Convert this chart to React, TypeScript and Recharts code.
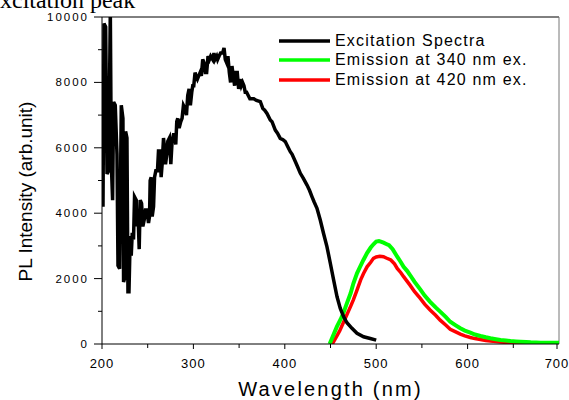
import { LineChart, Line, XAxis, YAxis, Legend, ReferenceLine } from 'recharts';

// excitation spectrum (nm, intensity)
const excitationNm = [
  200, 201.1, 202.2, 204, 205.5, 207.3, 209.1, 210.2, 211.6, 212.7, 214.5, 216.4, 217.5, 219.3, 221.1,
  222.9, 223.6, 224.7, 225.8, 227.3, 228.4, 229.5, 230.9, 232, 233.1, 234.5, 235.6, 237.5, 238.2, 239.6,
  240.7, 241.8, 243.3, 244.7, 246.2, 247.6, 249.1, 250.9, 252, 252.7, 253.8, 254.9, 256.4, 257.5, 258.9,
  260.7, 261.8, 263.6, 264.7, 265.8, 267.3, 268.4, 269.5, 270.9, 272, 273.8, 275.3, 276.7, 278.2, 279.6,
  280.7, 281.8, 282.9, 284.4, 286.2, 287.6, 289.1, 290.9, 292.4, 293.8, 295.3, 296.7, 298.2, 299.3, 300.4,
  301.8, 302.9, 304.4, 305.8, 307.3, 308.7, 310.2, 311.6, 313.1, 314.5, 316, 317.5, 318.9, 321.1, 322.5,
  323.6, 325.5, 326.5, 328, 329.8, 332, 333.5, 334.9, 336.4, 337.8, 339.3, 340.7, 342.2, 343.6, 345.1,
  346.5, 348, 349.5, 350.9, 352.4, 353.8, 355.3, 356.7, 358.2, 360, 361.8, 363.6, 366, 369, 373.2,
  376, 378, 380.5, 384.1, 386, 389.6, 392, 395, 398, 400.5, 403, 406, 408, 411.5, 414,
  417, 420, 424.3, 427, 429.8, 432, 435.2, 438.8, 442.4, 446.1, 449.8, 453.4, 457.1, 460.7, 464.3,
  468, 473.5, 479, 486.2, 493.5, 500,
];
const excitationVal = [
  7300, 4200, 9800, 9700, 5200, 5300, 10200, 5500, 4400, 7400, 7300, 5800, 2400, 2300, 7300,
  6900, 1900, 2000, 6500, 6300, 1600, 1600, 3300, 2700, 3400, 3200, 4500, 4400, 3600, 3800,
  2900, 4400, 4300, 3600, 3800, 4100, 4100, 3700, 3900, 5000, 5100, 3900, 4200, 5100, 5300,
  5300, 5900, 5900, 5100, 5500, 6300, 6000, 5500, 5800, 6200, 6300, 5500, 6200, 6400, 6400,
  6100, 6800, 6900, 6600, 6800, 6900, 7300, 7200, 7000, 7600, 7800, 7300, 7700, 7900, 7900,
  8300, 8200, 8100, 8200, 8300, 8200, 8700, 8600, 8300, 8300, 8800, 8700, 8800, 8700, 8900,
  8700, 8800, 8700, 8800, 8900, 8900, 9050, 8700, 8600, 8800, 8300, 8000, 8500, 8200, 7900,
  8300, 8300, 7800, 8100, 7900, 8000, 7900, 7700, 7700, 7600, 7500, 7500, 7500, 7450, 7410,
  7200, 7150, 7050, 6850, 6800, 6540, 6450, 6290, 6250, 6190, 6050, 5880, 5800, 5580, 5420,
  5220, 5080, 4860, 4700, 4500, 4350, 4150, 3790, 3380, 2980, 2470, 1960, 1450, 1090, 840,
  650, 480, 330, 220, 170, 120,
];

// emission excited at 340 nm
const em340Nm = [
  449, 452, 457, 461, 464, 468, 472, 475, 479, 483, 486, 490, 494, 497, 500, 503, 505, 508, 511, 514,
  518, 523, 527, 530, 534, 537, 542, 548, 553, 559, 565, 570, 576, 581, 587, 592, 597, 603, 608, 614,
  620, 625, 631, 636, 642, 647, 653, 658, 664, 669, 675, 680, 690, 700,
];
const em340Val = [
  0, 200, 530, 750, 940, 1250, 1550, 1850, 2160, 2400, 2570, 2780, 2950, 3050, 3130, 3150, 3130, 3100, 3060, 3020,
  2900, 2670, 2500, 2360, 2230, 2110, 1900, 1680, 1480, 1290, 1120, 990, 830, 680, 570, 480, 410, 350, 290, 245,
  205, 175, 145, 120, 105, 90, 80, 70, 60, 50, 45, 40, 40, 35,
];

// emission excited at 420 nm
const em420Nm = [
  452, 457, 460, 464, 468, 472, 475, 479, 483, 486, 490, 494, 497, 500, 504, 508, 511, 516, 520, 523,
  527, 530, 537, 542, 548, 553, 559, 565, 570, 576, 581, 587, 592, 597, 603, 608, 614, 620, 625, 631,
  636, 647, 660, 680, 700,
];
const em420Val = [
  0, 250, 400, 650, 900, 1150, 1350, 1650, 1960, 2150, 2360, 2500, 2620, 2660, 2680, 2670, 2630, 2570, 2450, 2310,
  2180, 2060, 1800, 1600, 1400, 1220, 1040, 880, 730, 580, 450, 370, 305, 250, 200, 165, 140, 110, 90, 75,
  60, 40, 30, 25, 20,
];

const xTicks = [200, 250, 300, 350, 400, 450, 500, 550, 600, 650, 700];
const yTicks = [0, 1000, 2000, 3000, 4000, 5000, 6000, 7000, 8000, 9000, 10000];

const seriesNames = ['Excitation Spectra', 'Emission at 340 nm ex.', 'Emission at 420 nm ex.'];

const toRows = (nm: number[], val: number[]) => nm.map((x, i) => ({ nm: x, v: val[i] }));

const excitationData = toRows(excitationNm, excitationVal);
const em340Data = toRows(em340Nm, em340Val);
const em420Data = toRows(em420Nm, em420Val);

const SANS = 'Arial, "Liberation Sans", sans-serif';

function YTick({ x, y, payload }: any) {
  const major = payload.value % 2000 === 0;
  return (
    <g>
      <line x1={x - (major ? 8 : 4)} x2={x} y1={y} y2={y} stroke="#000" strokeWidth={1} />
      {major && (
        <text
          x={x - 13}
          y={y}
          dy={4}
          textAnchor="end"
          fontFamily={SANS}
          fontSize={11.5}
          style={{ letterSpacing: 2 }}
          fill="#000"
        >
          {payload.value}
        </text>
      )}
    </g>
  );
}

function XTick({ x, y, payload }: any) {
  const major = payload.value % 100 === 0;
  return (
    <g>
      <line x1={x} x2={x} y1={y} y2={y + (major ? 5 : 4)} stroke="#000" strokeWidth={1} />
      {major && (
        <text x={x} y={y + 24} textAnchor="middle" fontFamily={SANS} fontSize={13} style={{ letterSpacing: 1 }} fill="#000">
          {payload.value}
        </text>
      )}
    </g>
  );
}

function XTitle(props: any) {
  const vb = props.viewBox || { x: 102, y: 344, width: 457, height: 56 };
  return (
    <text
      x={vb.x + vb.width / 2}
      y={vb.y + 52}
      textAnchor="middle"
      fontFamily={SANS}
      fontSize={20}
      style={{ letterSpacing: 2.2 }}
      fill="#000"
    >
      Wavelength (nm)
    </text>
  );
}

function YTitle(props: any) {
  const vb = props.viewBox || { x: 0, y: 17, width: 102, height: 327 };
  const cx = vb.x + 31.7;
  const cy = vb.y + vb.height / 2 + 11;
  return (
    <text x={cx} y={cy} transform={`rotate(-90 ${cx} ${cy})`} textAnchor="middle" fontFamily={SANS} fontSize={19} fill="#000">
      PL Intensity (arb.unit)
    </text>
  );
}

function LegendBox({ payload }: any) {
  const list = payload || [];
  return (
    <div style={{ fontFamily: SANS, fontSize: 16, letterSpacing: 1.2, color: '#000' }}>
      {seriesNames.map((name) => {
        const p = list.find((it: any) => it.value === name);
        return (
          <div key={name} style={{ display: 'flex', alignItems: 'center', height: 19.5, whiteSpace: 'nowrap' }}>
            <svg width={51} height={6} style={{ marginRight: 5 }}>
              <line x1={0} x2={51} y1={3} y2={3} stroke={p ? p.color : '#000'} strokeWidth={3.5} />
            </svg>
            <span>{name}</span>
          </div>
        );
      })}
    </div>
  );
}

export default function App() {
  return (
    <div style={{ position: 'absolute', left: 0, top: 0, width: 569, height: 400, background: '#fff' }}>
      <LineChart width={569} height={400} margin={{ top: 17, right: 10, bottom: 0, left: 0 }}>
        <XAxis
          dataKey="nm"
          type="number"
          domain={[200, 700]}
          ticks={xTicks}
          allowDataOverflow
          height={56}
          tickSize={0}
          tickMargin={0}
          tickLine={false}
          tick={<XTick />}
          axisLine={{ stroke: '#000', strokeWidth: 1 }}
          label={XTitle}
        />
        <YAxis
          type="number"
          domain={[0, 10000]}
          ticks={yTicks}
          allowDataOverflow
          width={102}
          tickSize={0}
          tickMargin={0}
          tickLine={false}
          tick={<YTick />}
          axisLine={{ stroke: '#000', strokeWidth: 1 }}
          label={YTitle}
        />
        <ReferenceLine y={10000} stroke="#000" strokeWidth={1} />
        <ReferenceLine x={700} stroke="#777" strokeWidth={1} />
        <Legend
          layout="vertical"
          align="center"
          verticalAlign="middle"
          wrapperStyle={{ top: 31, left: 279, width: 'auto' }}
          content={<LegendBox />}
        />
        <Line
          data={em420Data}
          dataKey="v"
          name={seriesNames[2]}
          type="linear"
          stroke="#ff0000"
          strokeWidth={3.5}
          dot={false}
          activeDot={false}
          isAnimationActive={false}
        />
        <Line
          data={em340Data}
          dataKey="v"
          name={seriesNames[1]}
          type="linear"
          stroke="#00ff00"
          strokeWidth={4}
          dot={false}
          activeDot={false}
          isAnimationActive={false}
        />
        <Line
          data={excitationData}
          dataKey="v"
          name={seriesNames[0]}
          type="linear"
          stroke="#000000"
          strokeWidth={3.5}
          dot={false}
          activeDot={false}
          isAnimationActive={false}
        />
      </LineChart>
      <svg width={569} height={30} style={{ position: 'absolute', left: 0, top: 0, pointerEvents: 'none' }}>
        <text x={-14.7} y={8} fontFamily='"Liberation Serif", "Times New Roman", serif' fontSize={24} fill="#000">
          Excitation peak
        </text>
      </svg>
    </div>
  );
}
